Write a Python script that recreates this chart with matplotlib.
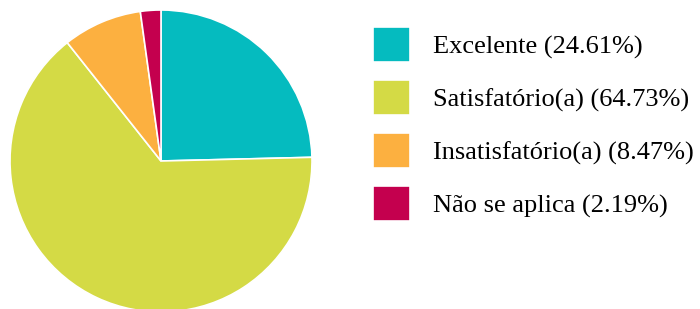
import matplotlib
matplotlib.use("Agg")
import matplotlib.pyplot as plt

categories = ["Excelente", "Satisfatório(a)", "Insatisfatório(a)", "Não se aplica"]
values = [24.61, 64.73, 8.47, 2.19]
colors = ["#05BBBF", "#D4DA45", "#FCB040", "#C4004E"]

W, H = 700, 309
fig = plt.figure(figsize=(W / 100, H / 100), dpi=100)
plt.rcParams["font.family"] = ["Liberation Serif", "DejaVu Serif"]

cx, cy, r = 161, 161, 151
ax = fig.add_axes([(cx - r) / W, (H - cy - r) / H, 2 * r / W, 2 * r / H])
wedges, _ = ax.pie(values, colors=colors, startangle=90, counterclock=False,
                   wedgeprops=dict(edgecolor="white", linewidth=1.2), radius=1)
ax.set_xlim(-1, 1)
ax.set_ylim(-1, 1)
ax.set_aspect("equal")
ax.axis("off")

labels = [f"{c} ({v:.2f}%)" for c, v in zip(categories, values)]
fs = 19
fpx = fs * 100 / 72
hh = (35 / fpx - 0.245) / 0.65
fig.legend(wedges, labels, loc="upper left",
           bbox_to_anchor=(373 / W, (H - 27) / H), bbox_transform=fig.transFigure,
           frameon=False, fontsize=fs, borderpad=0, borderaxespad=0,
           handlelength=37 / fpx, handleheight=hh,
           labelspacing=18 / fpx, handletextpad=23 / fpx)

fig.savefig("out.png", dpi=100)
